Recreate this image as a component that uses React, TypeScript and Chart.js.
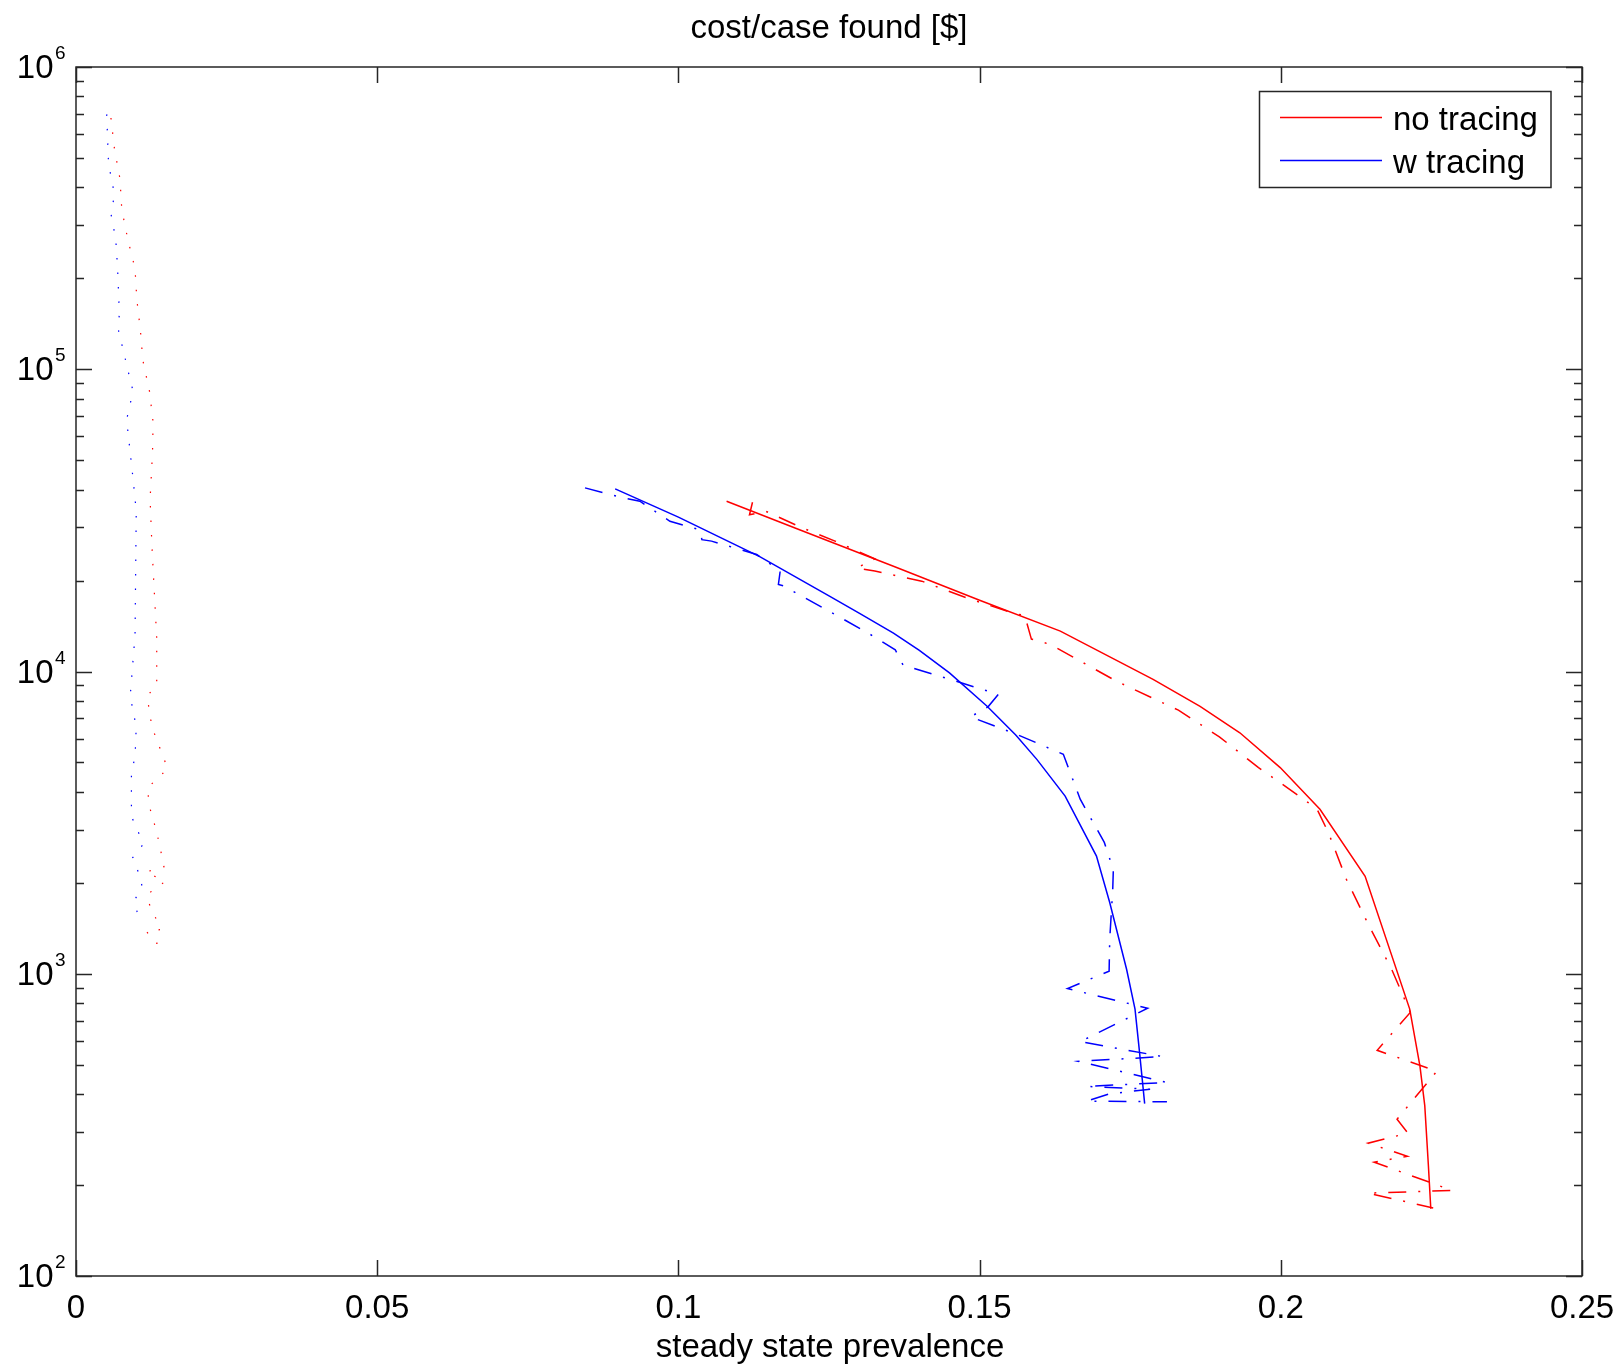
import React, { useEffect, useRef } from "react";
import { Chart, registerables } from "chart.js";

Chart.register(...registerables);

// ---- Data ----
// Solid curves (model)
const noTracingX = [0.108, 0.12, 0.1357, 0.15, 0.1634, 0.1788, 0.1866, 0.1932, 0.1999, 0.2065, 0.214, 0.2214, 0.2231, 0.2239, 0.2245, 0.2249];
const noTracingY = [36600, 29500, 22300, 17200, 13600, 9420, 7670, 6270, 4810, 3500, 2100, 764, 495, 366, 232, 167];

const wTracingX = [0.0895, 0.1, 0.1135, 0.125, 0.13, 0.1357, 0.14, 0.145, 0.1512, 0.156, 0.1595, 0.1642, 0.1694, 0.1716, 0.1744, 0.1758, 0.1765, 0.177, 0.1774];
const wTracingY = [40200, 32400, 24000, 17800, 15600, 13400, 11750, 9890, 7690, 6170, 5120, 3870, 2450, 1720, 1035, 764, 562, 447, 372];

// Dash-dot curves (simulated)
const noTracingSimX = [0.1123, 0.1118, 0.1145, 0.1205, 0.126, 0.1326, 0.1296, 0.1326, 0.1404, 0.1479, 0.1556, 0.1575, 0.1586, 0.1617, 0.1727, 0.183, 0.1898, 0.1963, 0.2029, 0.206, 0.2079, 0.2109, 0.2145, 0.2184, 0.2215, 0.216, 0.2259, 0.2193, 0.2211, 0.2145, 0.221, 0.2155, 0.2284, 0.2145, 0.2253];
const noTracingSimY = [36300, 33000, 33900, 29900, 27000, 23600, 22000, 21500, 19900, 17500, 15600, 15300, 12800, 12300, 9290, 7450, 6080, 4810, 3890, 3510, 2930, 2050, 1460, 1035, 745, 558, 476, 330, 297, 275, 249, 238, 192, 188, 168];

const wTracingSimX = [0.0845, 0.0909, 0.0936, 0.0986, 0.1036, 0.1039, 0.1055, 0.113, 0.1169, 0.1166, 0.1174, 0.1246, 0.1315, 0.136, 0.1373, 0.1451, 0.1531, 0.1514, 0.1485, 0.1562, 0.1639, 0.1667, 0.1707, 0.1722, 0.1721, 0.1716, 0.1715, 0.1646, 0.1779, 0.1667, 0.1804, 0.1664, 0.1811, 0.1678, 0.1783, 0.1714, 0.1678, 0.1811];
const wTracingSimY = [40500, 37500, 36600, 31400, 29400, 27300, 27000, 24400, 21500, 19400, 19200, 16000, 13400, 11800, 10500, 9420, 8400, 7640, 7080, 6190, 5320, 3780, 2720, 2210, 1900, 1300, 1020, 893, 769, 596, 532, 513, 437, 424, 415, 400, 379, 377];

// Dotted curves (near zero prevalence)
const noTracingLowX = [0.0058, 0.0064, 0.0073, 0.0076, 0.0086, 0.0098, 0.0101, 0.0107, 0.0111, 0.0122, 0.0128, 0.0127, 0.0123, 0.0126, 0.013, 0.0134, 0.0134, 0.0118, 0.0126, 0.0152, 0.014, 0.012, 0.012, 0.0134, 0.0139, 0.0146, 0.0116, 0.0148, 0.012, 0.012, 0.0141, 0.0117, 0.0133, 0.0149];
const noTracingLowY = [678000, 533000, 427000, 338000, 269000, 215000, 170000, 134000, 107000, 84500, 66700, 53000, 37200, 26200, 18300, 12900, 9040, 8280, 6560, 4780, 4510, 4150, 3690, 2940, 2650, 2260, 2170, 2020, 1840, 1730, 1400, 1380, 1260, 1280];

const wTracingLowX = [0.0051, 0.0054, 0.0064, 0.0058, 0.0066, 0.0069, 0.0072, 0.007, 0.0088, 0.0094, 0.009, 0.0084, 0.0095, 0.01, 0.0098, 0.009, 0.01, 0.0098, 0.0092, 0.0092, 0.0112, 0.0094, 0.0103, 0.011, 0.0097, 0.0102];
const wTracingLowY = [697000, 478000, 378000, 327000, 269000, 217000, 153000, 136000, 95900, 85700, 76400, 68200, 42900, 33900, 13200, 8280, 6560, 5210, 4650, 3320, 2690, 2420, 2180, 1940, 1750, 1585];

// Axis ticks and labels
const xTicks = [0, 0.05, 0.1, 0.15, 0.2, 0.25];
const xTickLabels = ["0", "0.05", "0.1", "0.15", "0.2", "0.25"];
const yDecades = [2, 3, 4, 5, 6];

const titleText = "cost/case found [$]";
const xAxisTitle = "steady state prevalence";
const legendLabels = ["no tracing", "w tracing"];

const RED = "#ff0000";
const BLUE = "#0000ff";
const FONT = '"Liberation Sans", Arial, sans-serif';

function pts(xs: number[], ys: number[]) {
  return xs.map((x, i) => ({ x, y: ys[i] }));
}

const framePlugin = {
  id: "matlabFrame",
  afterDraw(chart: any) {
    const ctx: CanvasRenderingContext2D = chart.ctx;
    const xs = chart.scales.x;
    const ys = chart.scales.y;
    const { left, right, top, bottom } = chart.chartArea;
    ctx.save();
    ctx.strokeStyle = "#262626";
    ctx.lineWidth = 1.5;
    ctx.setLineDash([]);
    ctx.strokeRect(left, top, right - left, bottom - top);

    ctx.beginPath();
    for (const v of xTicks) {
      const px = Math.round(xs.getPixelForValue(v)) + 0.5;
      ctx.moveTo(px, bottom);
      ctx.lineTo(px, bottom - 16);
      ctx.moveTo(px, top);
      ctx.lineTo(px, top + 16);
    }
    for (const d of yDecades) {
      const py = Math.round(ys.getPixelForValue(Math.pow(10, d))) + 0.5;
      ctx.moveTo(left, py);
      ctx.lineTo(left + 16, py);
      ctx.moveTo(right, py);
      ctx.lineTo(right - 16, py);
      if (d < 6) {
        for (let m = 2; m <= 9; m++) {
          const pm = Math.round(ys.getPixelForValue(m * Math.pow(10, d))) + 0.5;
          ctx.moveTo(left, pm);
          ctx.lineTo(left + 8, pm);
          ctx.moveTo(right, pm);
          ctx.lineTo(right - 8, pm);
        }
      }
    }
    ctx.stroke();

    ctx.fillStyle = "#000";
    ctx.font = `33px ${FONT}`;
    ctx.textBaseline = "alphabetic";
    ctx.textAlign = "center";
    xTicks.forEach((v, i) => {
      ctx.fillText(xTickLabels[i], xs.getPixelForValue(v), 1318);
    });

    for (const d of yDecades) {
      const py = ys.getPixelForValue(Math.pow(10, d));
      ctx.font = `33px ${FONT}`;
      ctx.textAlign = "right";
      ctx.fillText("10", 53.5, py + 11);
      ctx.font = `19px ${FONT}`;
      ctx.textAlign = "left";
      ctx.fillText(String(d), 55, py - 8);
    }

    ctx.font = `33px ${FONT}`;
    ctx.textAlign = "center";
    ctx.fillText(titleText, (left + right) / 2, 37.5);
    ctx.fillText(xAxisTitle, (left + right) / 2 + 1, 1357);

    // legend
    const bx = 1259.5, by = 91.5, bw = 291.5, bh = 96;
    ctx.fillStyle = "#fff";
    ctx.fillRect(bx, by, bw, bh);
    ctx.strokeStyle = "#262626";
    ctx.lineWidth = 1.5;
    ctx.strokeRect(bx, by, bw, bh);
    const rows = [
      { y: 117.5, c: RED, t: legendLabels[0] },
      { y: 160.5, c: BLUE, t: legendLabels[1] },
    ];
    for (const r of rows) {
      ctx.strokeStyle = r.c;
      ctx.lineWidth = 1.5;
      ctx.beginPath();
      ctx.moveTo(1280, r.y);
      ctx.lineTo(1382, r.y);
      ctx.stroke();
      ctx.fillStyle = "#000";
      ctx.textAlign = "left";
      ctx.font = `33px ${FONT}`;
      ctx.fillText(r.t, 1393, r.y + 12.5);
    }
    ctx.restore();
  },
};

export default function App() {
  const ref = useRef<HTMLCanvasElement | null>(null);

  useEffect(() => {
    if (!ref.current) return;
    const dotted = [1.5, 13];
    const dashDot = [18, 12, 2, 12];
    const chart = new Chart(ref.current, {
      type: "line",
      data: {
        datasets: [
          { data: pts(wTracingLowX, wTracingLowY), borderColor: BLUE, borderWidth: 1.2, borderDash: dotted },
          { data: pts(noTracingLowX, noTracingLowY), borderColor: RED, borderWidth: 1.2, borderDash: dotted },
          { data: pts(wTracingSimX, wTracingSimY), borderColor: BLUE, borderWidth: 1.5, borderDash: dashDot },
          { data: pts(noTracingSimX, noTracingSimY), borderColor: RED, borderWidth: 1.5, borderDash: dashDot },
          { label: legendLabels[0], data: pts(noTracingX, noTracingY), borderColor: RED, borderWidth: 1.5 },
          { label: legendLabels[1], data: pts(wTracingX, wTracingY), borderColor: BLUE, borderWidth: 1.5 },
        ].map((d: any) => ({ ...d, pointRadius: 0, pointHoverRadius: 0, tension: 0, fill: false })),
      },
      options: {
        animation: false,
        responsive: false,
        devicePixelRatio: 1,
        events: [],
        layout: { padding: { left: 76, top: 67, right: 39, bottom: 94 } },
        plugins: { legend: { display: false }, title: { display: false }, tooltip: { enabled: false } },
        scales: {
          x: {
            type: "linear",
            min: 0,
            max: 0.25,
            grid: { display: false },
            border: { display: false },
            ticks: { display: false },
            afterFit: (s: any) => { s.height = 0; },
          },
          y: {
            type: "logarithmic",
            min: 100,
            max: 1000000,
            grid: { display: false },
            border: { display: false },
            ticks: { display: false },
            afterFit: (s: any) => { s.width = 0; },
          },
        },
      },
      plugins: [framePlugin],
    } as any);
    return () => chart.destroy();
  }, []);

  return (
    <div style={{ position: "absolute", left: 0, top: 0, width: 1621, height: 1370, background: "#fff" }}>
      <canvas ref={ref} width={1621} height={1370} style={{ display: "block", width: 1621, height: 1370 }} />
    </div>
  );
}
